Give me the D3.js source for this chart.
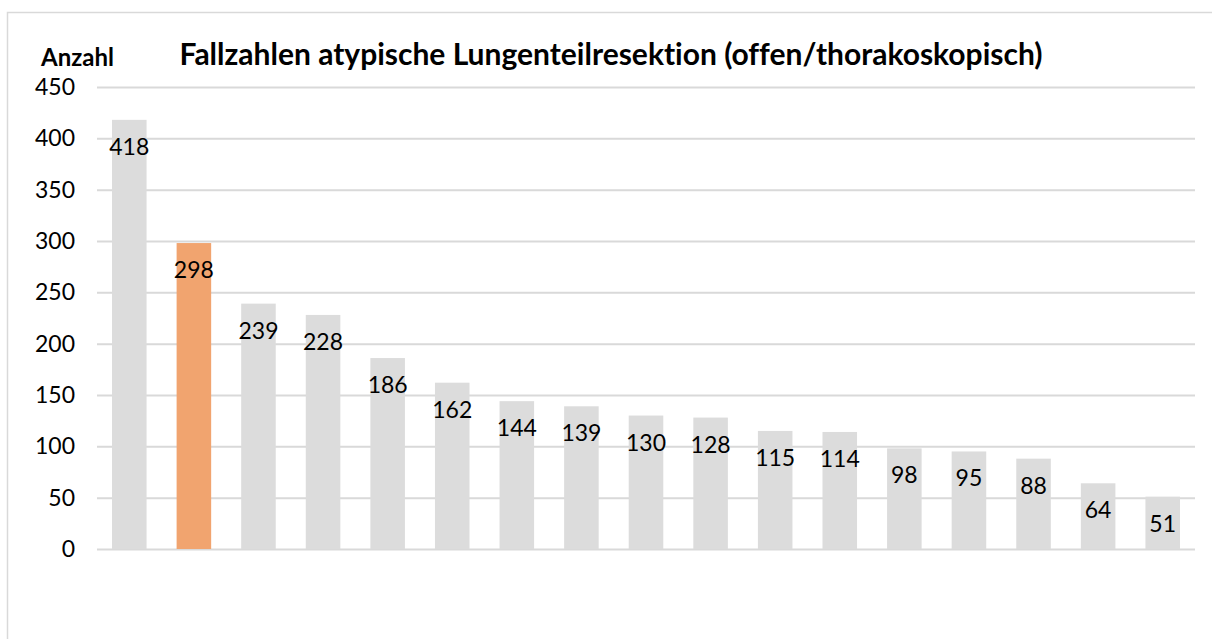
<!DOCTYPE html>
<html>
<head>
<meta charset="utf-8">
<script src="https://cdn.jsdelivr.net/npm/d3@7"></script>
<style>
  body { margin: 0; background: #fff; }
  svg { display: block; font-family: Lato, "Open Sans", sans-serif; font-variant-ligatures: none; }
</style>
</head>
<body>
<div class="chart"></div>
<script>
/** chart data */
let categories = ['A', 'B', 'C', 'D', 'E', 'F', 'G', 'H', 'I', 'J', 'K', 'L', 'M', 'N', 'O', 'P', 'Q'];
let counts = [418, 298, 239, 228, 186, 162, 144, 139, 130, 128, 115, 114, 98, 95, 88, 64, 51];
let highlighted = ['B'];
let yTicks = [0, 50, 100, 150, 200, 250, 300, 350, 400, 450];

let bars_data = categories.map(function (c, i) { return { key: c, value: counts[i] }; });

/** set up canvas */
let width = 1212, height = 639;
let margin = { top: 87, right: 17, bottom: 90, left: 97 };

let svg = d3.select('.chart').append('svg')
    .attr('width', width)
    .attr('height', height);

/** outer frame */
svg.append('path')
    .attr('d', 'M7.5,' + height + 'V12.5H' + width)
    .attr('fill', 'none')
    .attr('stroke', '#d9d9d9')
    .attr('stroke-width', 1.5);

/** scales */
let xScale = d3.scaleBand()
    .domain(categories)
    .range([margin.left, width - margin.right])
    .paddingInner(0.465)
    .paddingOuter(0.2325);

let yScale = d3.scaleLinear()
    .domain([0, 450])
    .range([549, margin.top]);

/** gridlines and tick labels via axis */
let yAxis = d3.axisLeft(yScale)
    .tickValues(yTicks)
    .tickSize(-(width - margin.right - margin.left))
    .tickPadding(22);

let axisG = svg.append('g')
    .attr('transform', 'translate(' + margin.left + ',0)')
    .call(yAxis);
axisG.select('.domain').remove();
axisG.selectAll('line').attr('stroke', '#d9d9d9').attr('stroke-width', 2);
axisG.selectAll('text')
    .attr('fill', '#000')
    .style('font-size', '23px')
    .style('font-family', 'Lato, sans-serif');

/** bars */
svg.selectAll('.bars')
    .data(bars_data)
    .enter()
        .append('rect')
        .attr('class', 'bars')
        .attr('x', function (d) { return xScale(d.key); })
        .attr('y', function (d) { return yScale(d.value); })
        .attr('width', xScale.bandwidth())
        .attr('height', function (d) { return yScale(0) - yScale(d.value); })
        .attr('fill', function (d) { return highlighted.includes(d.key) ? '#f1a46f' : '#dcdcdc'; });

/** value labels, inside end */
svg.selectAll('.bar-number')
    .data(bars_data)
    .enter()
        .append('text')
        .attr('class', 'bar-number')
        .attr('x', function (d) { return xScale(d.key) + xScale.bandwidth() / 2; })
        .attr('y', function (d) { return yScale(d.value) + 35; })
        .attr('text-anchor', 'middle')
        .style('font-size', '23px')
        .text(function (d) { return d.value; });

/** axis title */
svg.append('text')
    .attr('x', 41)
    .attr('y', 66)
    .style('font-weight', 'bold')
    .style('font-size', '24px')
    .text('Anzahl');

/** chart title */
svg.append('text')
    .attr('x', 611)
    .attr('y', 65)
    .attr('text-anchor', 'middle')
    .style('font-weight', 'bold')
    .style('font-size', '30px')
    .text('Fallzahlen atypische Lungenteilresektion (offen/thorakoskopisch)');
</script>
</body>
</html>
